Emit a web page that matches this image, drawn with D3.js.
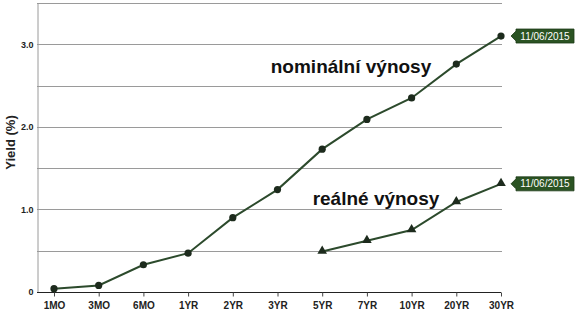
<!DOCTYPE html>
<html>
<head>
<meta charset="utf-8">
<script src="https://cdn.jsdelivr.net/npm/d3@7"></script>
<style>
  body { margin: 0; background: #fff; }
  text { font-family: Arial, "Liberation Sans", sans-serif; }
</style>
</head>
<body>
<div id="chart"></div>
<script>
// data
const maturities = ["1MO", "3MO", "6MO", "1YR", "2YR", "3YR", "5YR", "7YR", "10YR", "20YR", "30YR"];
const nominal = [0.04, 0.08, 0.33, 0.47, 0.90, 1.24, 1.73, 2.09, 2.35, 2.76, 3.10];
const realMat = ["5YR", "7YR", "10YR", "20YR", "30YR"];
const real = [0.49, 0.62, 0.75, 1.09, 1.31];
const yTicks = [0, 1.0, 2.0, 3.0];
const dateLabel = "11/06/2015";

const width = 576, height = 313;
const margin = { top: 3, right: 58, bottom: 21, left: 37 };

const svg = d3.select("#chart")
  .append("svg")
  .attr("width", width)
  .attr("height", height);

const x = d3.scalePoint()
  .domain(maturities)
  .range([margin.left, width - margin.right])
  .padding(0.38);

const y = d3.scaleLinear()
  .domain([0, 3.5])
  .range([height - margin.bottom, margin.top]);

// grid lines every 0.5
svg.append("g")
  .selectAll("line")
  .data(d3.range(0.5, 3.51, 0.5))
  .join("line")
  .attr("x1", margin.left)
  .attr("x2", x("30YR") + 1)
  .attr("y1", d => Math.round(y(d)) + 0.5)
  .attr("y2", d => Math.round(y(d)) + 0.5)
  .attr("stroke", "#9a9a9a")
  .attr("stroke-width", 1);

// y axis
const yAxis = svg.append("g")
  .attr("transform", `translate(${margin.left + 0.5},0)`)
  .call(d3.axisLeft(y).tickValues(yTicks).tickSize(0).tickPadding(4)
    .tickFormat(d => d === 0 ? "0" : d3.format(".1f")(d)));
yAxis.select(".domain").attr("stroke", "#9a9a9a");
yAxis.selectAll("text")
  .attr("font-size", "9px")
  .attr("font-weight", "bold")
  .attr("fill", "#222");

// x axis
const xAxis = svg.append("g")
  .attr("transform", `translate(0,${Math.round(y(0)) + 0.5})`)
  .call(d3.axisBottom(x).tickSize(4).tickPadding(5));
xAxis.select(".domain")
  .attr("d", `M${margin.left},0H${x("30YR")}`)
  .attr("stroke", "#222");
xAxis.selectAll(".tick line").attr("stroke", "#444");
xAxis.selectAll("text")
  .attr("font-size", "10px")
  .attr("font-weight", "bold")
  .attr("fill", "#222");

// y title
svg.append("text")
  .attr("transform", `translate(15,${(y(0) + y(3.5)) / 2 - 5}) rotate(-90)`)
  .attr("text-anchor", "middle")
  .attr("font-size", "13px")
  .attr("font-weight", "bold")
  .attr("fill", "#222")
  .text("Yield (%)");

const line = d3.line()
  .x(d => x(d[0]))
  .y(d => y(d[1]));

const lineColor = "#2c4a2c";
const markColor = "#1d2b1d";

const nomData = maturities.map((m, i) => [m, nominal[i]]);
const realData = realMat.map((m, i) => [m, real[i]]);

svg.append("path")
  .datum(nomData)
  .attr("d", line)
  .attr("fill", "none")
  .attr("stroke", lineColor)
  .attr("stroke-width", 2);

svg.append("path")
  .datum(realData)
  .attr("d", line)
  .attr("fill", "none")
  .attr("stroke", lineColor)
  .attr("stroke-width", 2);

svg.append("g")
  .selectAll("circle")
  .data(nomData)
  .join("circle")
  .attr("cx", d => x(d[0]))
  .attr("cy", d => y(d[1]))
  .attr("r", 3.6)
  .attr("fill", markColor);

const tri = d3.symbol().type(d3.symbolTriangle).size(40);
svg.append("g")
  .selectAll("path")
  .data(realData)
  .join("path")
  .attr("transform", d => `translate(${x(d[0])},${y(d[1]) - 0.5})`)
  .attr("d", tri)
  .attr("fill", markColor);

// date flags
function flag(val) {
  const px = x("30YR") + 10, py = y(val);
  const g = svg.append("g").attr("transform", `translate(${px},${py})`);
  g.append("path")
    .attr("d", "M0,0L5,-5V-7H63V7H5V5Z")
    .attr("fill", "#2b5323")
    .attr("stroke", "#1c3a17")
    .attr("stroke-width", 0.8);
  g.append("text")
    .attr("x", 34)
    .attr("y", 3.6)
    .attr("text-anchor", "middle")
    .attr("font-size", "10px")
    .attr("fill", "#fff")
    .text(dateLabel);
}
flag(nominal[nominal.length - 1]);
flag(real[real.length - 1]);

// annotations
svg.append("text")
  .attr("x", 351)
  .attr("y", 73)
  .attr("text-anchor", "middle")
  .attr("font-size", "19px")
  .attr("font-weight", "bold")
  .attr("fill", "#111")
  .text("nominální výnosy");

svg.append("text")
  .attr("x", 376)
  .attr("y", 205)
  .attr("text-anchor", "middle")
  .attr("font-size", "19px")
  .attr("font-weight", "bold")
  .attr("fill", "#111")
  .text("reálné výnosy");
</script>
</body>
</html>
